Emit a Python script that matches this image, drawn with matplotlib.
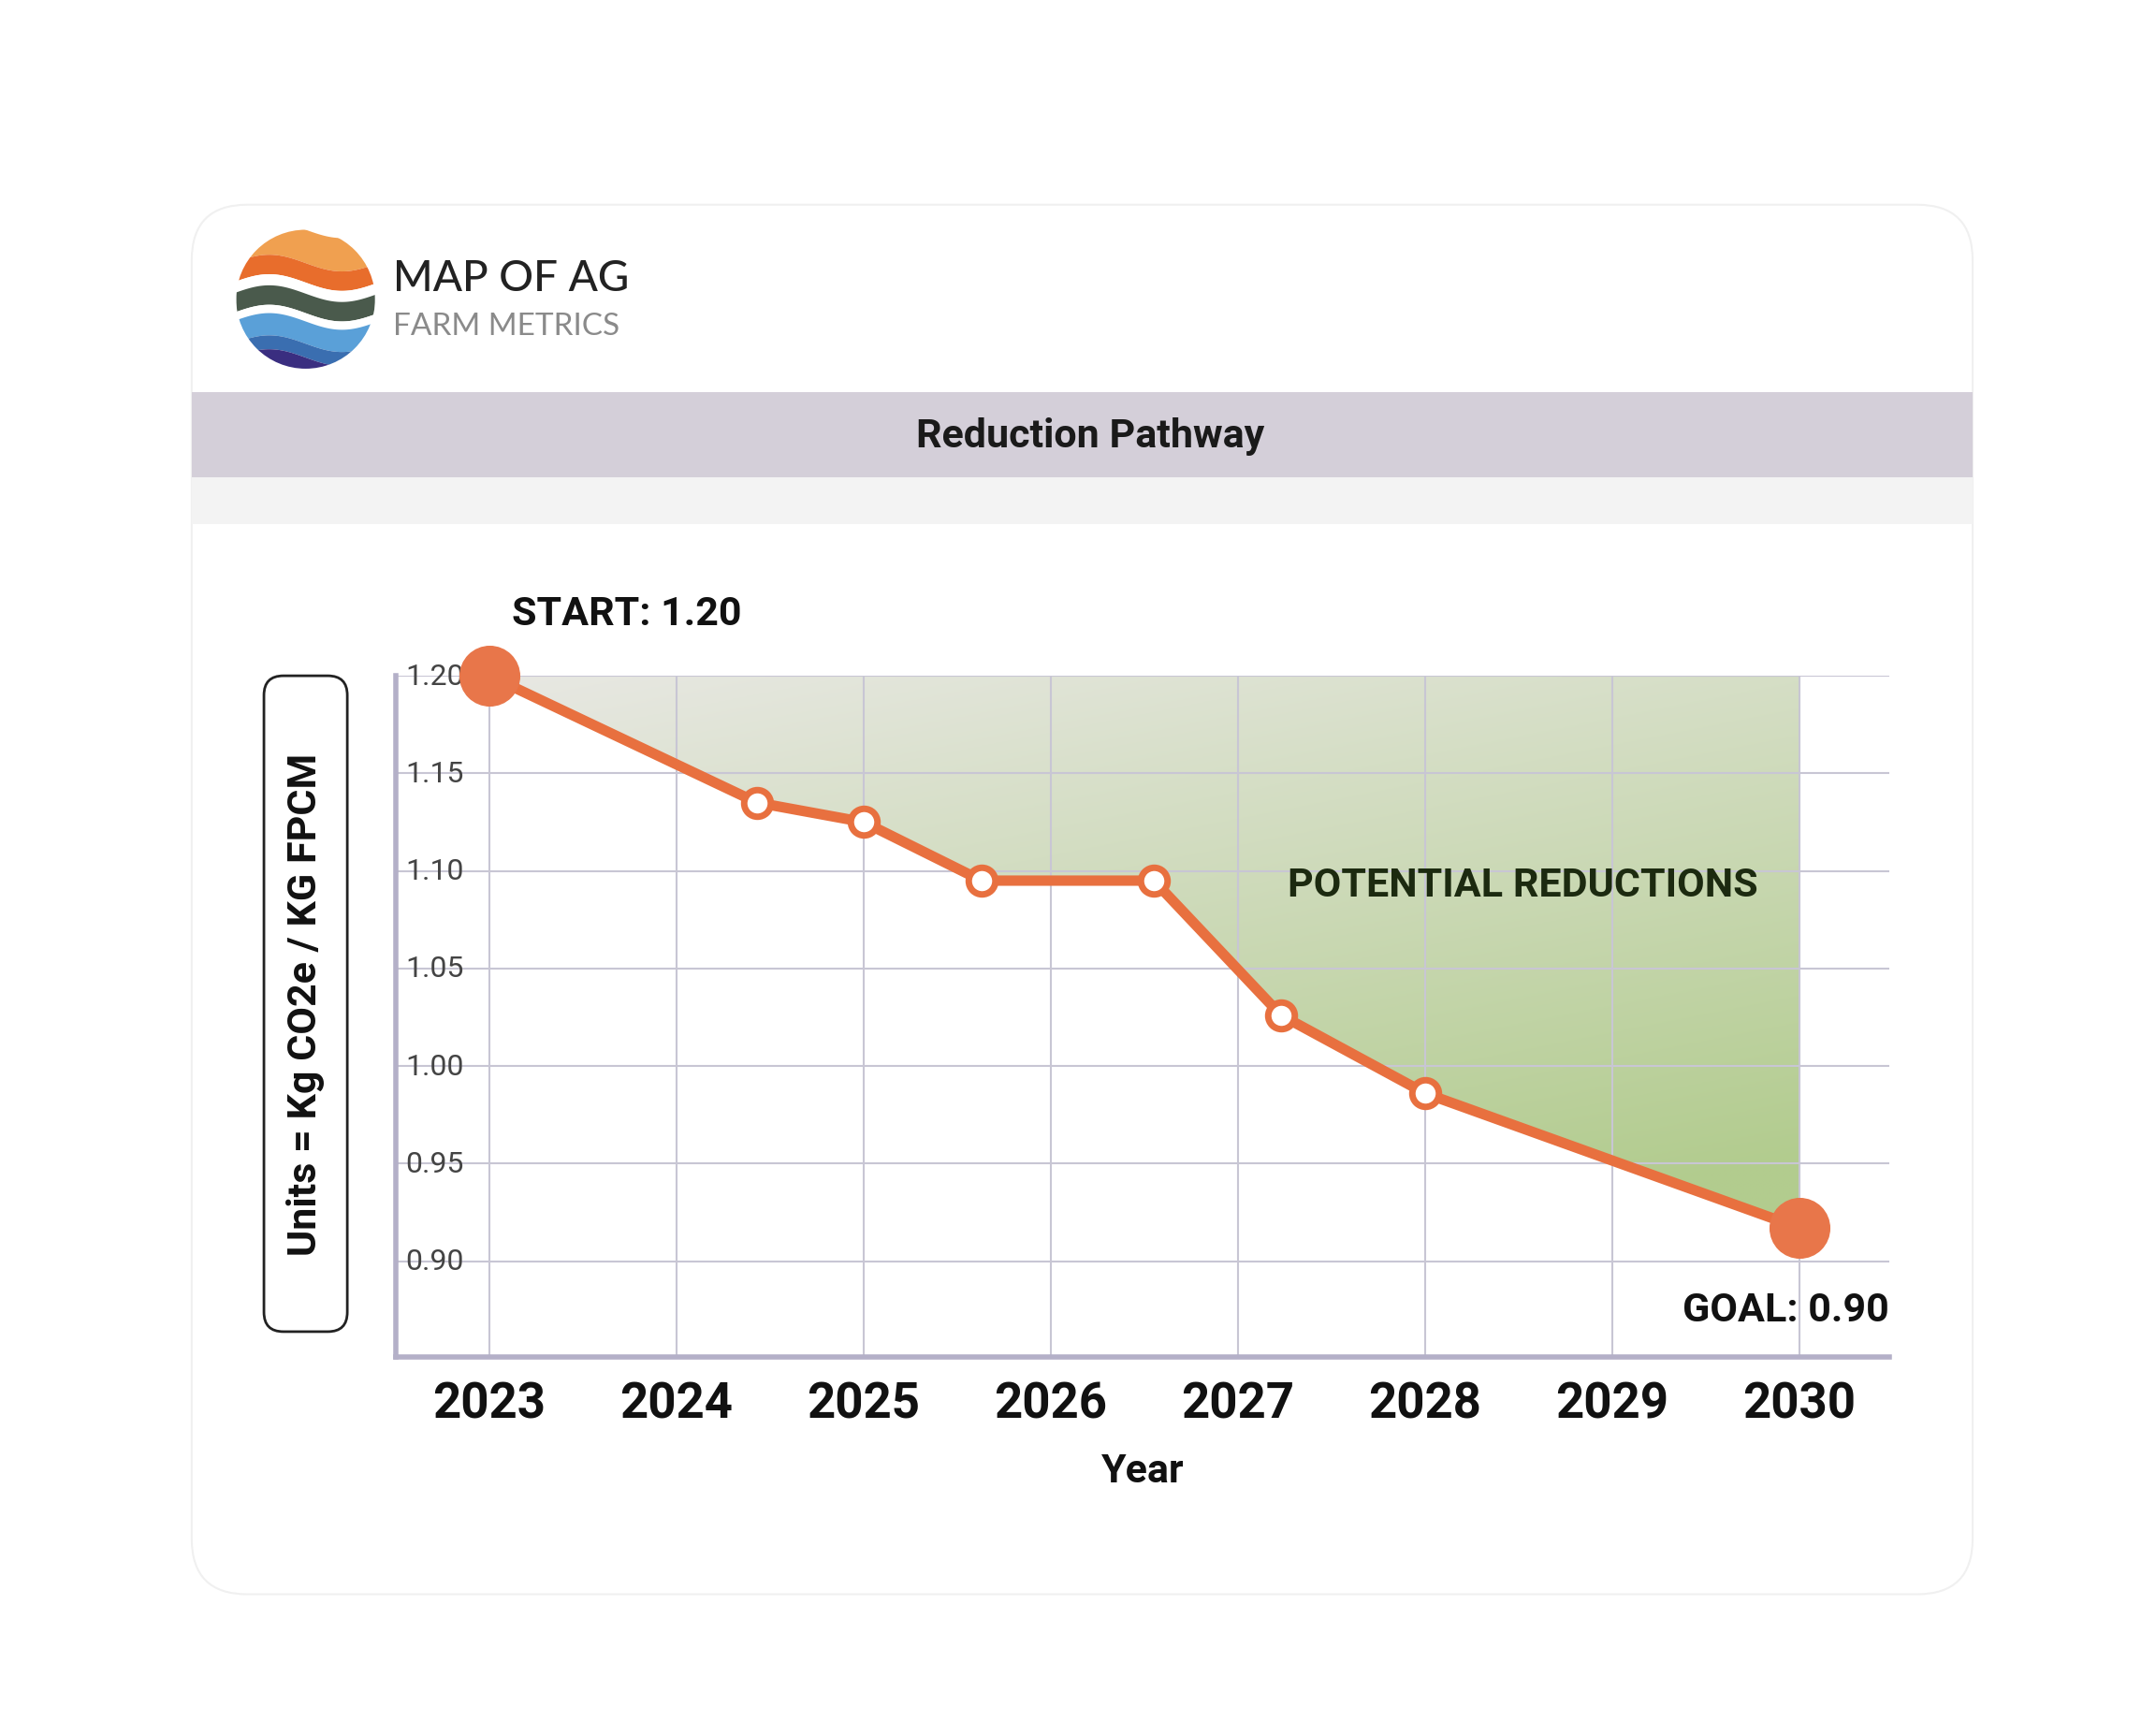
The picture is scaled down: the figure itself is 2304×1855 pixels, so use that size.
import numpy as np
import matplotlib
matplotlib.use("Agg")
import matplotlib.pyplot as plt
from matplotlib.patches import FancyBboxPatch, Polygon, Circle, Rectangle

plt.rcParams['font.family'] = ['Roboto', 'DejaVu Sans']

years = [2023, 2024.43, 2025, 2025.63, 2026.55, 2027.23, 2028, 2030]
values = [1.20, 1.135, 1.125, 1.095, 1.095, 1.026, 0.986, 0.917]
year_ticks = [2023, 2024, 2025, 2026, 2027, 2028, 2029, 2030]
y_ticks = [0.90, 0.95, 1.00, 1.05, 1.10, 1.15, 1.20]

W, H = 1552, 1250
fig = plt.figure(figsize=(23.04, 18.56), dpi=100)
bg = fig.add_axes([0, 0, 1, 1]); bg.set_xlim(0, W); bg.set_ylim(H, 0); bg.axis('off')
bg.add_patch(FancyBboxPatch((138, 148), 1282, 1000, boxstyle="round,pad=0,rounding_size=40",
                            fc='white', ec='#f0f0f0', lw=1.5))
bg.add_patch(Rectangle((138, 283), 1282, 61, fc='#d4cfd9', ec='none'))
bg.add_patch(Rectangle((138, 344), 1282, 34, fc='#f3f3f3', ec='none'))
bg.text(785, 314, "Reduction Pathway", ha='center', va='center', fontsize=31, fontweight='bold', color='#1a1a1a')
# logo
cx, cy, r = 220, 216, 50
clip = Circle((cx, cy), r, transform=bg.transData)
cols = ['#f0a050', '#e86d2c', '#ffffff', '#4a5a4c', '#ffffff', '#5aa0d8', '#3a6eb0', '#3a2e80']
bands = [166, 190, 204, 212, 226, 232, 248, 258, 270]
xs = np.linspace(cx - r, cx + r, 100)
for i, c in enumerate(cols):
    top = bands[i] + 6 * np.sin((xs - cx) / r * 3.0)
    bot = bands[i + 1] + 6 * np.sin((xs - cx) / r * 3.0)
    poly = Polygon(np.column_stack([np.r_[xs, xs[::-1]], np.r_[top, bot[::-1]]]), fc=c, ec='none')
    bg.add_patch(poly); poly.set_clip_path(clip)
bg.text(283, 201, "MAP OF AG", ha='left', va='center', fontsize=33, color='#222222',
        family=['Lato', 'DejaVu Sans'], fontweight='medium')
bg.text(283, 235, "FARM METRICS", ha='left', va='center', fontsize=24, color='#8a8a8a',
        family=['Lato', 'DejaVu Sans'])
# y label box
bg.add_patch(FancyBboxPatch((190, 487), 60, 472, boxstyle="round,pad=0,rounding_size=14",
                            fc='white', ec='#222222', lw=2))
bg.text(220, 723, "Units = Kg CO2e / KG FPCM", rotation=90, ha='center', va='center',
        fontsize=31, fontweight='bold', color='#111111')

ax = fig.add_axes([285 / W, 1 - 977 / H, (1360 - 285) / W, (977 - 487) / H])
ax.set_facecolor('none')
for s in ['top', 'right']:
    ax.spines[s].set_visible(False)
for s in ['left', 'bottom']:
    ax.spines[s].set_color('#b4b0c8'); ax.spines[s].set_linewidth(4)
for yv in y_ticks:
    ax.axhline(yv, color='#c8c6d4', lw=1.5, zorder=1)
    ax.text(2022.55, yv, f"{yv:.2f}", ha='left', va='center', fontsize=23, color='#444444', zorder=5)
for xv in year_ticks:
    ax.axvline(xv, color='#c8c6d4', lw=1.5, zorder=1)
ax.set_xticks(year_ticks)
ax.set_xticklabels([str(y) for y in year_ticks], fontsize=38, fontweight='bold', color='#111111')
ax.tick_params(axis='x', length=0, pad=18)
ax.set_yticks([])
ax.set_xlabel("Year", fontsize=31, fontweight='bold', color='#111111', labelpad=18)

# gradient fill
poly_pts = np.column_stack([np.r_[years, years[-1], years[0]], np.r_[values, 1.20, 1.20]])
patch = Polygon(poly_pts, closed=True, fc='none', ec='none', transform=ax.transData)
ax.add_patch(patch)
gx, gy = np.meshgrid(np.linspace(0, 1, 200), np.linspace(0, 1, 200))
t = np.clip(0.35 * gx + 0.75 * gy, 0, 1)
c0 = np.array([0.91, 0.91, 0.89]); c1 = np.array([0.70, 0.80, 0.56])
img = c0[None, None, :] * (1 - t[..., None]) + c1[None, None, :] * t[..., None]
im = ax.imshow(img, extent=[2023, 2030, 0.917, 1.20], origin='upper', aspect='auto', zorder=0.5)
im.set_clip_path(patch)
ax.set_xlim(2022.5, 2030.48); ax.set_ylim(0.851, 1.20)

ax.plot(years, values, color='#e8703f', lw=8, zorder=6, solid_capstyle='round', clip_on=False)
ax.scatter(years[1:-1], values[1:-1], s=420, facecolor='white', edgecolor='#e8703f', linewidth=5, zorder=7)
ax.scatter([years[0], years[-1]], [values[0], values[-1]], s=2100, color='#e8764a', zorder=7, clip_on=False)

ax.text(2023.12, 1.222, "START: 1.20", fontsize=31, fontweight='bold', color='#111111', ha='left', va='bottom')
ax.text(2030.48, 0.875, "GOAL: 0.90", fontsize=31, fontweight='bold', color='#111111', ha='right', va='center')
ax.text(2029.78, 1.093, "POTENTIAL REDUCTIONS", fontsize=31, fontweight='bold', color='#1c2a10', ha='right', va='center', zorder=8)

fig.savefig("out.png", dpi=100, facecolor='white')
